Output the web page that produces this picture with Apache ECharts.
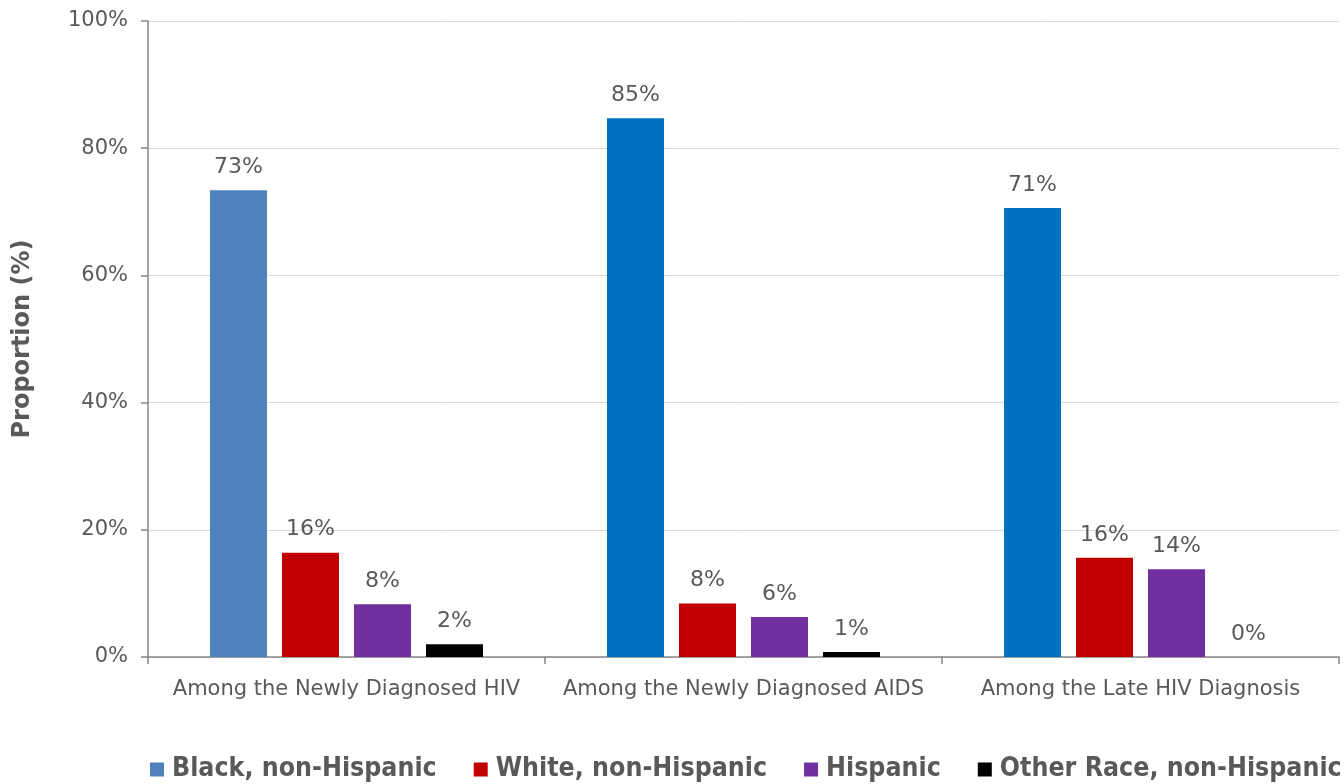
<!DOCTYPE html>
<html><head><meta charset="utf-8">
<script src="https://cdn.jsdelivr.net/npm/echarts@6/dist/echarts.min.js"></script>
<style>html,body{margin:0;padding:0;background:#fff}#c{width:1344px;height:784px}</style>
</head><body><div id="c"></div>
<script>
const categories = ['Among the Newly Diagnosed HIV', 'Among the Newly Diagnosed AIDS', 'Among the Late HIV Diagnosis'];
const seriesNames = ['Black, non-Hispanic', 'White, non-Hispanic', 'Hispanic', 'Other Race, non-Hispanic'];
const black = [73.4, 84.7, 70.6];
const white = [16.4, 8.4, 15.6];
const hispanic = [8.3, 6.3, 13.8];
const other = [2.0, 0.8, 0.0];
const yTicks = [0, 20, 40, 60, 80, 100];

const colors = ['#0070C0', '#C00000', '#7030A0', '#000000'];
const font = 'Tahoma, "DejaVu Sans", Verdana, sans-serif';
const txt = '#595959';
const all = [black, white, hispanic, other];

const chart = echarts.init(document.getElementById('c'));
chart.setOption({
  animation: false,
  grid: {left: 148, right: 5, top: 21, bottom: 127, containLabel: false},
  legend: {
    top: 751, left: 145, width: 1400, padding: 5, itemWidth: 14, itemHeight: 14, itemGap: 37,
    icon: 'rect',
    textStyle: {fontFamily: '"DejaVu Sans Condensed", "DejaVu Sans", sans-serif', fontWeight: 'bold', fontSize: 26.5, color: txt, padding: [0,0,0,3]},
    data: seriesNames.map((n, i) => ({name: n, itemStyle: {color: i === 0 ? '#4F81BD' : colors[i]}}))
  },
  xAxis: {
    type: 'category', data: categories,
    axisLine: {lineStyle: {color: '#868686', width: 1.5}},
    axisTick: {show: true, length: 7, lineStyle: {color: '#868686', width: 1.5}},
    axisLabel: {interval: 0, color: txt, fontFamily: font, fontSize: 21, margin: 22}
  },
  yAxis: {
    type: 'value', min: 0, max: 100, interval: 20,
    name: 'Proportion (%)', nameLocation: 'middle', nameGap: 113, nameRotate: 90,
    nameTextStyle: {color: txt, fontFamily: font, fontWeight: 'bold', fontSize: 24},
    axisLine: {show: true, lineStyle: {color: '#868686', width: 1.5}},
    axisTick: {show: true, length: 7, lineStyle: {color: '#868686', width: 1.5}},
    splitLine: {show: true, lineStyle: {color: '#D9D9D9', width: 1}},
    axisLabel: {color: txt, fontFamily: font, fontSize: 21, margin: 20,
      formatter: v => yTicks.includes(v) ? v + '%' : ''}
  },
  series: all.map((arr, i) => ({
    name: seriesNames[i], type: 'bar', barWidth: 57, barGap: '26.3%',
    itemStyle: {color: colors[i]},
    data: arr.map((v, j) => (i === 0 && j === 0) ? {value: v, itemStyle: {color: '#4F81BD'}} : v),
    label: {show: true, position: 'top', distance: 12, color: txt, fontFamily: font, fontSize: 22,
      formatter: p => Math.round(p.value) + '%'}
  }))
});
</script></body></html>
